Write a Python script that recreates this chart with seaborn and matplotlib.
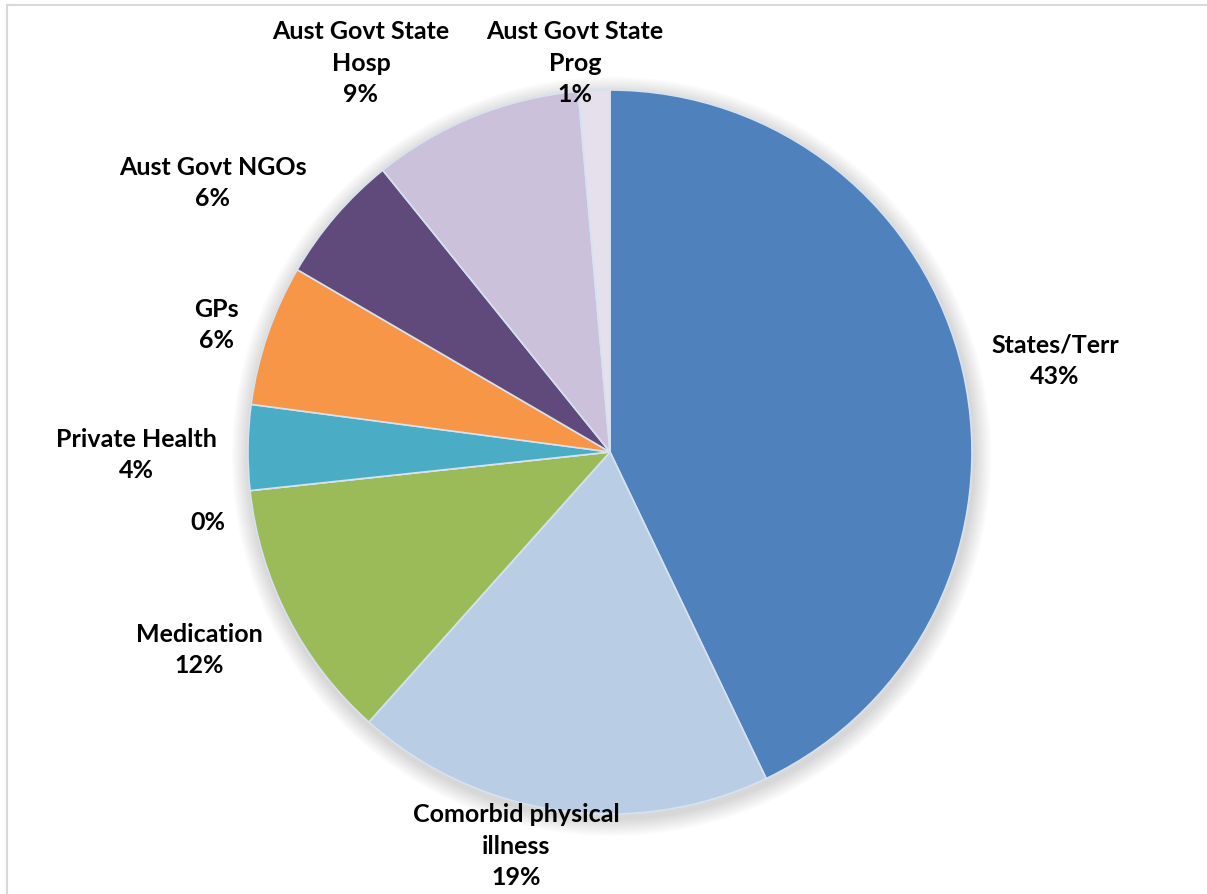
import matplotlib.pyplot as plt
import numpy as np
import seaborn as sns
from matplotlib.patches import Rectangle, Circle

# data (percent of total)
categories = ['States/Terr', 'Comorbid physical\nillness', 'Medication', '',
              'Private Health', 'GPs', 'Aust Govt NGOs', 'Aust Govt State\nHosp',
              'Aust Govt State\nProg']
shares = [42.9, 18.7, 11.7, 0.0, 3.8, 6.3, 5.8, 9.4, 1.4]
colors = ['#4F81BD', '#B9CDE5', '#9BBB59', '#C0504D', '#4BACC6', '#F79646',
          '#604A7B', '#CCC1DA', '#E6E0EC']

# label anchor points, in units of the pie radius (layout only)
label_pos = [(1.229, 0.254), (-0.260, -1.086), (-1.135, -0.544), (-1.110, -0.191),
             (-1.309, -0.006), (-1.086, 0.354), (-1.097, 0.746), (-0.688, 1.077),
             (-0.097, 1.077)]

sns.set_theme(style='white')
plt.rcParams['font.family'] = ['Lato', 'DejaVu Sans']

W, H, dpi = 1207, 895, 100
fig = plt.figure(figsize=(W / dpi, H / dpi), dpi=dpi)
ax = fig.add_axes([0, 0, 1, 1])

R_px = 362
cx, cy = 610, 895 - 453

# soft shadow behind the pie
for k in range(8):
    ax.add_patch(Circle((0.004, -0.012), 1.0 + 0.006 * (8 - k), color='black',
                        alpha=0.018, lw=0, zorder=0))

wedges, _ = ax.pie(shares, colors=colors, startangle=90, counterclock=False,
                   radius=1.0, wedgeprops=dict(edgecolor='#d6e2f0', linewidth=1.2))
for w in wedges:
    w.set_zorder(2)

for name, val, (lx, ly) in zip(categories, shares, label_pos):
    txt = f'{round(val):.0f}%' if name == '' else f'{name}\n{round(val):.0f}%'
    ax.text(lx, ly, txt, ha='center', va='center', fontsize=18,
            fontweight='bold', color='black', linespacing=1.45, zorder=3)

ax.set_aspect('auto')
ax.set_xlim(-cx / R_px, (W - cx) / R_px)
ax.set_ylim(-cy / R_px, (H - cy) / R_px)
ax.axis('off')

# chart frame (cropped at right and bottom)
fig.patches.append(Rectangle((7 / W, -0.05), 1.1, (889 / H) + 0.05,
                             transform=fig.transFigure, fill=False,
                             edgecolor='#d9d9d9', linewidth=1.5))

fig.savefig('out.png', dpi=dpi, facecolor='white')
